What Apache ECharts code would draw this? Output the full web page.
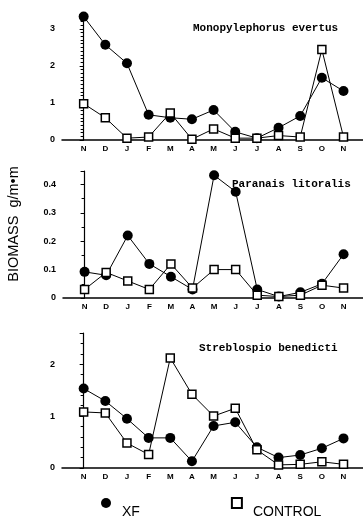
<!DOCTYPE html>
<html><head><meta charset="utf-8">
<script src="https://cdn.jsdelivr.net/npm/echarts@6/dist/echarts.min.js"></script>
<style>html,body{margin:0;padding:0;background:#fff}#c{width:363px;height:517px}</style>
</head><body><div id="c"></div>
<script>
const months = ['N','D','J','F','M','A','M','J','J','A','S','O','N'];
const titles = ['Monopylephorus evertus','Paranais litoralis','Streblospio benedicti'];
const monoXF = [3.33,2.57,2.07,0.68,0.60,0.56,0.81,0.22,0.05,0.33,0.65,1.68,1.32];
const monoCTRL = [0.98,0.60,0.05,0.08,0.73,0.02,0.30,0.05,0.05,0.12,0.08,2.44,0.08];
const paraXF = [0.092,0.08,0.22,0.12,0.075,0.03,0.432,0.374,0.03,0.005,0.02,0.05,0.154];
const paraCTRL = [0.03,0.09,0.06,0.03,0.12,0.035,0.10,0.10,0.01,0.005,0.01,0.045,0.035];
const strebXF = [1.53,1.29,0.95,0.58,0.58,0.13,0.81,0.88,0.40,0.20,0.25,0.38,0.57];
const strebCTRL = [1.08,1.06,0.48,0.26,2.12,1.42,1.00,1.15,0.35,0.06,0.07,0.12,0.07];
const yMax = [3.4, 0.447, 2.6];
const yInterval = [1, 0.1, 1];
const yMinorSplit = [10, 2, 5];
const seriesNames = ['XF','CONTROL'];

const panels = [[monoXF,monoCTRL],[paraXF,paraCTRL],[strebXF,strebCTRL]];
const grids = [
  {left:62, top:14, width:301, height:126},
  {left:63, top:171, width:300, height:127},
  {left:62, top:333, width:301, height:135}
];
const titlePos = [{left:193, top:23},{left:232, top:179},{left:199, top:343}];

const chart = echarts.init(document.getElementById('c'), null, {renderer:'canvas'});
const option = {
  backgroundColor:'#fff',
  animation:false,
  title: titles.map((t,i)=>({text:t, left:titlePos[i].left, top:titlePos[i].top, padding:0,
    textStyle:{fontFamily:'Liberation Mono', fontWeight:'bold', fontSize:11, color:'#000'}})),
  grid: grids,
  xAxis: grids.map((g,i)=>({type:'value', gridIndex:i, min:-1, max:12.9, interval:1,
    splitLine:{show:false},
    axisLine:{onZero:false, lineStyle:{color:'#000', width:1.5}},
    axisTick:{show:false},
    axisLabel:{margin:5, fontSize:8, fontWeight:'bold', fontFamily:'Liberation Sans', color:'#000',
      showMaxLabel:false,
      formatter:v=>(Number.isInteger(v) && v>=0 && v<months.length)?months[v]:''}})),
  yAxis: grids.map((g,i)=>({type:'value', gridIndex:i, min:0, max:yMax[i], interval:yInterval[i],
    splitLine:{show:false},
    axisLine:{show:true, lineStyle:{color:'#000', width:1.2}},
    axisTick:{show:true, length:4, lineStyle:{color:'#000'}},
    minorTick:{show:true, splitNumber:yMinorSplit[i], length:3, lineStyle:{color:'#000'}},
    axisLabel:{margin:7, fontSize:9, fontWeight:'bold', fontFamily:'Liberation Sans', color:'#000',
      showMaxLabel:false,
      formatter:v=> i===1 ? (v===0?'0':v.toFixed(1)) : String(v)}})),
  legend: {left:101, top:497, padding:0, itemWidth:10, itemHeight:10, itemGap:91,
    data:[{name:'XF', icon:'circle'},{name:'CONTROL', icon:'rect'}],
    formatter:n=>'{t|'+n+'}',
    textStyle:{fontFamily:'Liberation Sans', fontSize:14, color:'#000',
      rich:{t:{fontFamily:'Liberation Sans', fontSize:14, color:'#000', padding:[18,0,0,6]}}}},
  graphic:[{type:'text', x:14, y:224, rotation:Math.PI/2,
    style:{text:'BIOMASS  g/m\u2022m', fontFamily:'Liberation Sans', fontSize:14.5, fill:'#000',
      textAlign:'center', textVerticalAlign:'middle'}}],
  series: []
};
panels.forEach((p,i)=>{
  option.series.push({name:seriesNames[0], type:'line', xAxisIndex:i, yAxisIndex:i,
    data:p[0].map((v,k)=>[k,v]), symbol:'circle', symbolSize:10,
    itemStyle:{color:'#000'}, lineStyle:{color:'#000', width:1}});
  option.series.push({name:seriesNames[1], type:'line', xAxisIndex:i, yAxisIndex:i,
    data:p[1].map((v,k)=>[k,v]), symbol:'rect', symbolSize:8,
    itemStyle:{color:'#fff', borderColor:'#000', borderWidth:1.5}, lineStyle:{color:'#000', width:1}});
});
chart.setOption(option);
</script></body></html>
